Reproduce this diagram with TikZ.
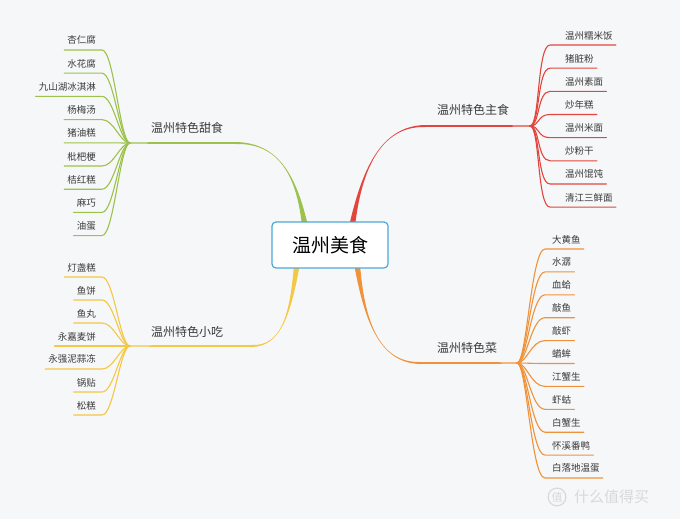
\documentclass[tikz,border=0pt]{standalone}
\usepackage{fontspec}
\setmainfont{Noto Sans CJK SC}
\usepackage{tikz}
\usetikzlibrary{positioning}

\definecolor{bgcol}{HTML}{F6F7F9}
\definecolor{txtcol}{HTML}{3A3A3A}
\definecolor{hubcol}{HTML}{4DA8D8}
\definecolor{staple}{HTML}{E2453C}
\definecolor{sweet}{HTML}{9CC24C}
\definecolor{snack}{HTML}{F4C744}
\definecolor{dish}{HTML}{F0923A}
\definecolor{wmcol}{HTML}{D9D9DB}

\tikzset{
  leaf/.style={inner xsep=3pt, inner ysep=5pt, text=txtcol,
    font=\fontsize{9.5}{10}\selectfont},
  branchlabel/.style={text=txtcol, font=\fontsize{12}{12}\selectfont},
  twig/.style={line width=1.1pt, line cap=round}
}

\begin{document}
\begin{tikzpicture}[x=1pt,y=-1pt]
        \useasboundingbox[fill=bgcol] (0,0) rectangle (680,519);
        % hub position first, drawn over the branches later
        \path (330,245) coordinate (hubc);
        \coordinate (gs) at ([xshift=-25pt,yshift=-4pt]hubc |- 0,222);
        \coordinate (gb) at (236,143);
        \coordinate (gj) at (130,143);
        \coordinate (rs) at (352,226);
        \coordinate (rb) at (425,126);
        \coordinate (rj) at (530,126);
        \coordinate (ys) at (297,264);
        \coordinate (yb) at (252,346);
        \coordinate (yj) at (130,346);
        \coordinate (os) at (357,264);
        \coordinate (ob) at (420,363);
        \coordinate (oj) at (517,363);
        % main branches, thick at the hub
        \fill[sweet] ([xshift=-3pt]gs) .. controls (297,178) and (280,143) .. ([yshift=-1pt]gb)
              -- ([yshift=-0.7pt]gj) -- ([yshift=0.7pt]gj) -- ([yshift=1pt]gb)
              .. controls (280,143) and (297,178) .. ([xshift=3pt]gs) -- cycle;
        \fill[staple] ([xshift=-3pt]rs) .. controls (361,175) and (378,126) .. ([yshift=1pt]rb)
              -- ([yshift=0.7pt]rj) -- ([yshift=-0.7pt]rj) -- ([yshift=-1pt]rb)
              .. controls (378,126) and (361,175) .. ([xshift=3pt]rs) -- cycle;
        \fill[snack] ([xshift=3pt]ys) .. controls (290,318) and (280,346) .. ([yshift=-1pt]yb)
              -- ([yshift=-0.7pt]yj) -- ([yshift=0.7pt]yj) -- ([yshift=1pt]yb)
              .. controls (280,346) and (290,318) .. ([xshift=-3pt]ys) -- cycle;
        \fill[dish] ([xshift=3pt]os) .. controls (364,318) and (378,363) .. ([yshift=1pt]ob)
              -- ([yshift=0.7pt]oj) -- ([yshift=-0.7pt]oj) -- ([yshift=-1pt]ob)
              .. controls (378,363) and (364,318) .. ([xshift=-3pt]os) -- cycle;

        \node[draw=hubcol,line width=1.2pt,fill=white,rounded corners=4pt,
              minimum width=116pt,minimum height=46pt,inner sep=0pt,text=black,
              font=\fontsize{19}{19}\selectfont] (hub) at (hubc) {温州美食};

        \node[branchlabel] (sweetlabel) at (187,128) {温州特色甜食};
        \node[branchlabel] (staplelabel) at (473,110) {温州特色主食};
        \node[branchlabel] (snacklabel) at (187,332) {温州特色小吃};
        \node[branchlabel] (dishlabel) at (467,348) {温州特色菜};

        % leaves
        \foreach \name [count=\i] in {杏仁腐,水花腐,九山湖冰淇淋,杨梅汤,猪油糕,枇杷梗,桔红糕,麻巧,油蛋} {
            \node[leaf,anchor=south east] (g\i) at (99,{26.8+23.2*\i}) {\name};
            \draw[twig,sweet] (g\i.south west) -- ([xshift=3pt]g\i.south east)
                .. controls ([xshift=15pt]g\i.south east) and ([xshift=-10pt]gj) .. (gj);
        }
        \foreach \name [count=\i] in {灯盏糕,鱼饼,鱼丸,永嘉麦饼,永强泥蒜冻,锅贴,松糕} {
            \node[leaf,anchor=south east] (y\i) at (99,{254+23*\i}) {\name};
            \draw[twig,snack] (y\i.south west) -- ([xshift=3pt]y\i.south east)
                .. controls ([xshift=15pt]y\i.south east) and ([xshift=-10pt]yj) .. (yj);
        }
        \foreach \name [count=\i] in {温州糯米饭,猪脏粉,温州素面,炒年糕,温州米面,炒粉干,温州馄饨,清江三鲜面} {
            \node[leaf,anchor=south west] (r\i) at (562,{21.9+23.15*\i}) {\name};
            \draw[twig,staple] (rj) .. controls ([xshift=10pt]rj) and ([xshift=-25pt]r\i.south west)
                .. ([xshift=-12pt]r\i.south west) -- (r\i.south east);
        }
        \foreach \name [count=\i] in {大黄鱼,水潺,血蛤,敲鱼,敲虾,蝤蛑,江蟹生,虾蛄,白蟹生,怀溪番鸭,白落地温蛋} {
            \node[leaf,anchor=south west] (o\i) at (549,{226.1+22.9*\i}) {\name};
            \draw[twig,dish] (oj) .. controls ([xshift=10pt]oj) and ([xshift=-18pt]o\i.south west)
                .. ([xshift=-4pt]o\i.south west) -- (o\i.south east);
        }

        % watermark
        \node[circle,draw=wmcol,line width=1.2pt,inner sep=1pt,text=wmcol,
              font=\fontsize{11}{11}\selectfont] (wmlogo) at (557,497) {值};
        \node[right=4pt of wmlogo,text=wmcol,font=\fontsize{15}{15}\selectfont] (wmtext) {什么值得买};
\end{tikzpicture}
\end{document}
